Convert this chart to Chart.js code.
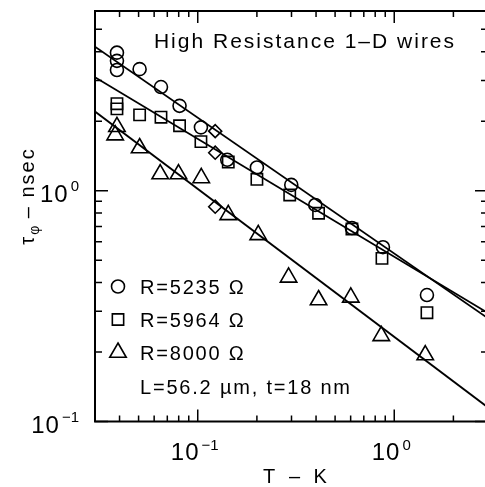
<!DOCTYPE html>
<html>
<head>
<meta charset="utf-8">
<script src="https://cdn.jsdelivr.net/npm/chart.js@4.4.0/dist/chart.umd.min.js"></script>
<style>
html, body { margin: 0; padding: 0; background: #fff; overflow: hidden; }
#wrap { width: 490px; height: 487px; }
</style>
</head>
<body>
<div id="wrap"><canvas id="plot" width="490" height="487"></canvas></div>
<script>
// values (T in K, tau_phi in ns)
const t5235 = [0.0388, 0.0388, 0.0388, 0.0506, 0.0650, 0.0808, 0.1038, 0.1413, 0.2000, 0.2992, 0.3963, 0.609, 0.876, 1.467];
const tau5235 = [3.96, 3.65, 3.33, 3.36, 2.81, 2.33, 1.88, 1.36, 1.26, 1.059, 0.867, 0.689, 0.569, 0.353];

const t5964 = [0.0388, 0.0388, 0.0506, 0.0650, 0.0808, 0.1038, 0.1430, 0.2000, 0.2938, 0.4120, 0.609, 0.866, 1.467];
const tau5964 = [2.38, 2.26, 2.13, 2.08, 1.91, 1.63, 1.33, 1.12, 0.958, 0.798, 0.682, 0.509, 0.296];

const t8000 = [0.0388, 0.0380, 0.0506, 0.0644, 0.0798, 0.1042, 0.1430, 0.2032, 0.2899, 0.4120, 0.601, 0.859, 1.438];
const tau8000 = [1.89, 1.74, 1.53, 1.18, 1.18, 1.135, 0.785, 0.643, 0.421, 0.336, 0.345, 0.235, 0.194];

// extra points drawn as diamonds
const tDiamond = [0.1227, 0.1227, 0.1227];
const tauDiamond = [1.81, 1.46, 0.852];

// fitted power laws, end points
const tFit = [0.03, 3];
const fit5235 = [4.20, 0.280];
const fit5964 = [3.10, 0.295];
const fit8000 = [2.20, 0.115];

const legendLabels = ['R=5235 \u03A9', 'R=5964 \u03A9', 'R=8000 \u03A9'];
const legendStyles = ['circle', 'rect', 'triangle'];
const legendRadius = [6.5, 8, 9.5];
const noteText = 'L=56.2 \u00B5m, t=18 nm';
const titleText = 'High Resistance 1\u2013D wires';

const xDecades = [0.01, 0.1, 1];
const yDecades = [0.1, 1];

function pts(xs, ys) {
    return xs.map(function (v, i) { return {x: v, y: ys[i]}; });
}

const FONT = "'Liberation Sans', Arial, sans-serif";

function marks(xs, ys, style, r) {
    return {
        data: pts(xs, ys),
        pointStyle: style,
        pointRadius: r,
        pointBorderWidth: 1.6,
        pointBorderColor: '#000',
        pointBackgroundColor: 'rgba(0,0,0,0)',
        showLine: false,
    };
}

function fit(ys) {
    return {
        data: pts(tFit, ys),
        showLine: true,
        borderColor: '#000',
        borderWidth: 1.8,
        pointRadius: 0,
    };
}

function spaced(ctx, px) {
    if ('letterSpacing' in ctx) ctx.letterSpacing = px + 'px';
}

function power(ctx, exp, xRight, base, baseY, expY) {
    // "10" with a raised exponent, right edge at xRight
    ctx.font = '15px ' + FONT;
    spaced(ctx, 0);
    const ew = ctx.measureText(exp).width;
    ctx.textAlign = 'left';
    ctx.fillText(exp, xRight - ew, expY);
    ctx.font = '24px ' + FONT;
    spaced(ctx, 1);
    const bw = ctx.measureText(base).width;
    ctx.fillText(base, xRight - ew - 2 - bw, baseY);
}

function powerWidth(ctx, exp, base) {
    ctx.font = '15px ' + FONT;
    spaced(ctx, 0);
    const ew = ctx.measureText(exp).width;
    ctx.font = '24px ' + FONT;
    spaced(ctx, 1);
    return ew + 2 + ctx.measureText(base).width;
}

const frame = {
    id: 'frame',
    afterDraw(chart) {
        const ctx = chart.ctx;
        const a = chart.chartArea;
        const xs = chart.scales.x, ys = chart.scales.y;
        ctx.save();
        ctx.strokeStyle = '#000';
        ctx.fillStyle = '#000';
        ctx.lineWidth = 2;
        ctx.strokeRect(a.left, a.top, a.right - a.left, a.bottom - a.top);

        // inward ticks
        ctx.lineWidth = 1.5;
        ctx.beginPath();
        xDecades.forEach(function (d) {
            for (let k = 1; k <= 9; k++) {
                const v = d * k;
                if (v < xs.min || v > xs.max) continue;
                const px = xs.getPixelForValue(v);
                const len = k === 1 ? 12 : 6;
                ctx.moveTo(px, a.bottom); ctx.lineTo(px, a.bottom - len);
                ctx.moveTo(px, a.top); ctx.lineTo(px, a.top + len);
            }
        });
        yDecades.forEach(function (d) {
            for (let k = 1; k <= 9; k++) {
                const v = d * k;
                if (v < ys.min || v > ys.max) continue;
                const py = ys.getPixelForValue(v);
                const len = k === 1 ? 13 : 7;
                ctx.moveTo(a.left, py); ctx.lineTo(a.left + len, py);
                ctx.moveTo(a.right, py); ctx.lineTo(a.right - len, py);
            }
        });
        ctx.stroke();

        // tick labels
        ctx.textBaseline = 'alphabetic';
        [[0.1, '\u22121'], [1, '0']].forEach(function (p) {
            const px = xs.getPixelForValue(p[0]);
            const w = powerWidth(ctx, p[1], '10');
            power(ctx, p[1], px - 3 + w / 2, '10', 460, 450);
        });
        [[0.1, '\u22121'], [1, '0']].forEach(function (p) {
            const py = ys.getPixelForValue(p[0]);
            power(ctx, p[1], 79, '10', py + 11, py);
        });

        // axis titles
        ctx.font = '20px ' + FONT;
        spaced(ctx, 4);
        ctx.textAlign = 'center';
        ctx.fillText('T \u2013 K', 297, 483);

        ctx.save();
        ctx.translate(34, 196);
        ctx.rotate(-Math.PI / 2);
        ctx.textAlign = 'left';
        ctx.font = '20px ' + FONT;
        spaced(ctx, 2);
        const wTau = ctx.measureText('\u03C4').width;
        const rest = ' \u2013 nsec';
        const wRest = ctx.measureText(rest).width;
        ctx.font = '14px ' + FONT;
        spaced(ctx, 0);
        const wPhi = ctx.measureText('\u03C6').width;
        const x0 = -(wTau + wPhi + wRest) / 2;
        ctx.font = '20px ' + FONT;
        spaced(ctx, 2);
        ctx.fillText('\u03C4', x0, 0);
        ctx.font = '14px ' + FONT;
        spaced(ctx, 0);
        ctx.fillText('\u03C6', x0 + wTau, 5);
        ctx.font = '20px ' + FONT;
        spaced(ctx, 2);
        ctx.fillText(rest, x0 + wTau + wPhi, 0);
        ctx.restore();

        // title inside the frame
        ctx.font = '21px ' + FONT;
        spaced(ctx, 2);
        ctx.textAlign = 'center';
        ctx.fillText(titleText, 305, 48);

        // legend
        ctx.textAlign = 'left';
        const rows = [293.5, 326.5, 359.5];
        legendLabels.forEach(function (lab, i) {
            ctx.fillStyle = 'rgba(0,0,0,0)';
            ctx.strokeStyle = '#000';
            ctx.lineWidth = 1.6;
            Chart.helpers.drawPoint(ctx, {pointStyle: legendStyles[i], radius: legendRadius[i], borderWidth: 1.6, rotation: 0}, 118, rows[i] - 7);
            ctx.fillStyle = '#000';
            ctx.font = '20px ' + FONT;
            spaced(ctx, 1.8);
            ctx.fillText(lab, 140, rows[i]);
        });
        ctx.fillText(noteText, 140, 393.5);
        ctx.restore();
    }
};

const chart = new Chart(document.getElementById('plot').getContext('2d'), {
    type: 'scatter',
    data: {
        datasets: [
            fit(fit5235),
            fit(fit5964),
            fit(fit8000),
            marks(t5235, tau5235, 'circle', 6.5),
            marks(t5964, tau5964, 'rect', 8),
            marks(t8000, tau8000, 'triangle', 9.5),
            marks(tDiamond, tauDiamond, 'rectRot', 6.5),
        ]
    },
    options: {
        responsive: false,
        animation: false,
        devicePixelRatio: 1,
        layout: { autoPadding: false, padding: { left: 95, right: 2, top: 11, bottom: 65.5 } },
        scales: {
            x: { type: 'logarithmic', min: 0.03, max: 3, display: false },
            y: { type: 'logarithmic', min: 0.1, max: 6, display: false },
        },
        plugins: {
            legend: { display: false },
            tooltip: { enabled: false },
        },
    },
    plugins: [frame],
});
</script>
</body>
</html>
